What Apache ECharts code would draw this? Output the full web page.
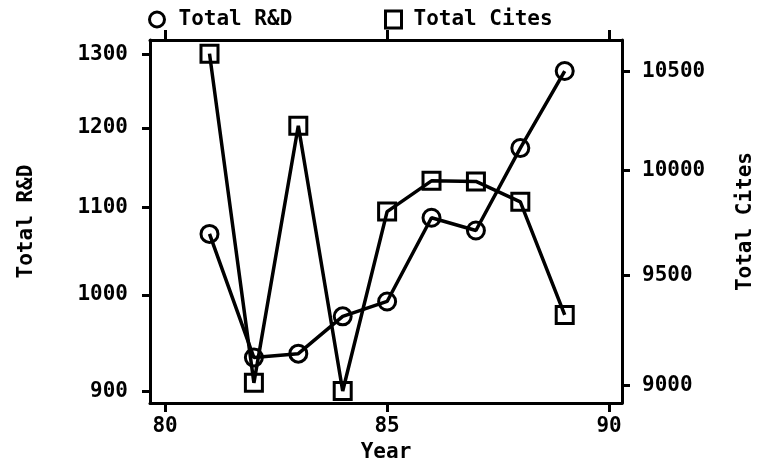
<!DOCTYPE html>
<html>
<head>
<meta charset="utf-8">
<script src="https://cdn.jsdelivr.net/npm/echarts@6/dist/echarts.min.js"></script>
<style>
  html, body { margin: 0; padding: 0; background: #fff; }
  #chart { width: 764px; height: 468px; }
</style>
</head>
<body>
<div id="chart"></div>
<script>
// Yearly totals, 1981-1989
const years = [81, 82, 83, 84, 85, 86, 87, 88, 89];
const totalRD = [1069, 934, 938, 977, 993, 1088, 1073, 1174, 1277];
const totalCites = [10590, 9012, 10222, 8976, 9801, 9950, 9947, 9848, 9317];

// Tick labels
const yearTicks = [80, 85, 90];
const rdTicks = [900, 1000, 1100, 1200, 1300];
const citeTicks = [9000, 9500, 10000, 10500];

// Both vertical scales are logarithmic: values are placed on log10 value axes
const lg = v => Math.log10(v);
const unlog = v => String(Math.round(Math.pow(10, v)));

const FONT = { fontFamily: 'DejaVu Sans Mono', fontWeight: 'bold', fontSize: 21, color: '#000' };
const LINE = { show: true, lineStyle: { color: '#000', width: 3 } };
const TICK = { color: '#000', width: 3 };

const chart = echarts.init(document.getElementById('chart'), null, { renderer: 'canvas' });

const markerStyle = { color: 'rgba(255,255,255,0)', borderColor: '#000', borderWidth: 3 };

chart.setOption({
  animation: false,
  backgroundColor: '#fff',
  grid: { left: 150, right: 141, top: 40, bottom: 54, containLabel: false },
  legend: [
    {
      left: 148, top: 9, padding: 0, itemWidth: 15, itemHeight: 16, itemGap: 0,
      textStyle: Object.assign({}, FONT, { padding: [0, 0, 0, 9] }),
      data: [{ name: 'Total R&D', icon: 'circle', itemStyle: markerStyle }]
    },
    {
      left: 384, top: 9, padding: 0, itemWidth: 16, itemHeight: 17, itemGap: 0,
      textStyle: Object.assign({}, FONT, { padding: [0, 0, 0, 7] }),
      data: [{ name: 'Total Cites', icon: 'rect', itemStyle: markerStyle }]
    }
  ],
  xAxis: [
    {
      type: 'value', position: 'bottom', min: 79.66, max: 90.29,
      name: 'Year', nameLocation: 'middle', nameGap: 33,
      nameTextStyle: FONT,
      axisLine: LINE,
      axisTick: { show: true, inside: false, length: 9, customValues: yearTicks, lineStyle: TICK },
      axisLabel: Object.assign({ margin: 13, customValues: yearTicks }, FONT),
      splitLine: { show: false }
    },
    {
      type: 'value', position: 'top', min: 79.66, max: 90.29,
      axisLine: LINE,
      axisTick: { show: true, inside: false, length: 10, customValues: yearTicks, lineStyle: TICK },
      axisLabel: { show: false },
      splitLine: { show: false }
    }
  ],
  yAxis: [
    {
      type: 'value', position: 'left', min: lg(888.7), max: lg(1321),
      name: 'Total R&D', nameLocation: 'middle', nameGap: 113, nameRotate: 90,
      nameTextStyle: FONT,
      axisLine: LINE,
      axisTick: { show: true, inside: false, length: 8, customValues: rdTicks.map(lg), lineStyle: TICK },
      axisLabel: Object.assign({ margin: 22, customValues: rdTicks.map(lg), formatter: unlog }, FONT),
      splitLine: { show: false }
    },
    {
      type: 'value', position: 'right', min: lg(8923), max: lg(10661),
      name: 'Total Cites', nameLocation: 'middle', nameGap: 113, nameRotate: 90,
      nameTextStyle: FONT,
      axisLine: LINE,
      axisTick: { show: true, inside: false, length: 8, customValues: citeTicks.map(lg), lineStyle: TICK },
      axisLabel: Object.assign({ margin: 20, customValues: citeTicks.map(lg), formatter: unlog }, FONT),
      splitLine: { show: false }
    }
  ],
  series: [
    {
      name: 'Total R&D', type: 'line', xAxisIndex: 0, yAxisIndex: 0,
      data: years.map((y, i) => [y, lg(totalRD[i])]),
      symbol: 'circle', symbolSize: 17,
      itemStyle: markerStyle,
      lineStyle: { color: '#000', width: 3.5 },
      z: 3
    },
    {
      name: 'Total Cites', type: 'line', xAxisIndex: 0, yAxisIndex: 1,
      data: years.map((y, i) => [y, lg(totalCites[i])]),
      symbol: 'rect', symbolSize: 17,
      itemStyle: markerStyle,
      lineStyle: { color: '#000', width: 3.5 },
      z: 3
    }
  ]
});
</script>
</body>
</html>
